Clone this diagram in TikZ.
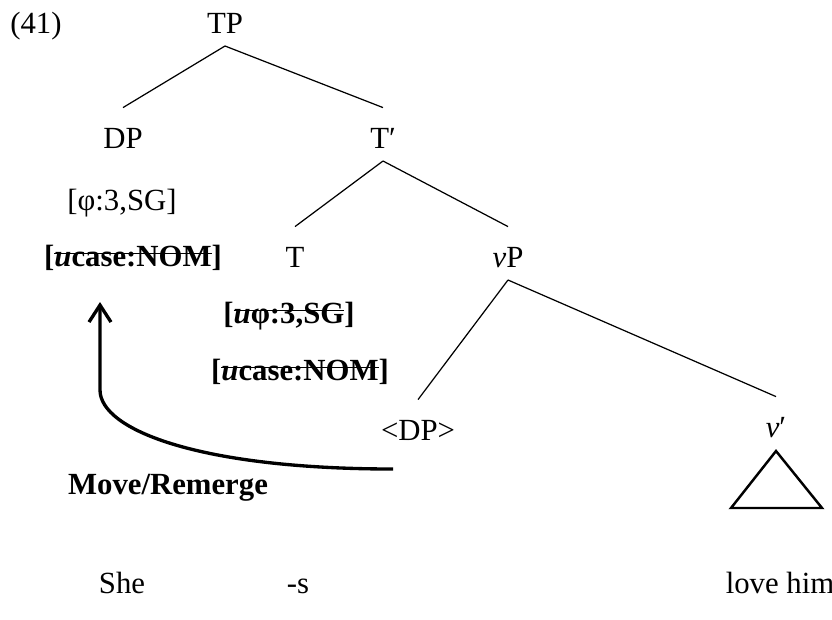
\documentclass[tikz,border=0pt]{standalone}
\usepackage{fontspec}
\setmainfont{Liberation Serif}
\usetikzlibrary{arrows.meta}

% struck-out (checked) feature
\newsavebox{\strikebox}
\newcommand{\struck}[1]{\sbox{\strikebox}{#1}\rlap{\rule[0.38em]{\wd\strikebox}{0.9pt}}\usebox{\strikebox}}

\tikzset{
    cat/.style={anchor=base,inner sep=0pt,text height=15.6pt,text depth=0pt,outer ysep=7.4pt},
    feat/.style={anchor=base,inner sep=0pt},
    branch/.style={line width=0.7pt},
    move/.style={line width=1.9pt,-{Straight Barb[length=0.34cm,width=0.44cm]}},
    roof/.style={line width=1.4pt,line join=miter},
}

\begin{document}
\begin{tikzpicture}[font=\fontsize{17.5}{21}\selectfont]

    \useasboundingbox (0,0) rectangle (16.64,-12.38);

    % example number
    \node[feat] (exno) at (0.72,-0.66) {(41)};

    % tree categories
    \node[cat] (TP) at (4.50,-0.66) {TP};
    \node[cat] (DP) at (2.46,-2.96) {DP};
    \node[cat] (Tbar) at (7.66,-2.96) {T′};
    \node[cat] (T) at (5.90,-5.34) {T};
    \node[cat] (vP) at (10.16,-5.34) {\textit{v}P};
    \node[cat] (trace) at (8.36,-8.80) {<DP>};
    \node[cat] (vbar) at (15.52,-8.74) {\textit{v}′};

    % branches
    \draw[branch] (TP.south) -- (DP.north);
    \draw[branch] (TP.south) -- (Tbar.north);
    \draw[branch] (Tbar.south) -- (T.north);
    \draw[branch] (Tbar.south) -- (vP.north);
    \draw[branch] (vP.south) -- (trace.north);
    \draw[branch] (vP.south) -- (vbar.north);

    % roof under v-bar
    \draw[roof] ([yshift=-0.28cm]vbar.base) -- ++(-0.9,-1.14) -- ++(1.82,0) -- cycle;

    %%%%%%%%%%%%%%%%%%%%%%%%%%%%%%%%%%%%%%%%%%%%%%%%%%%%%%

    % features of the subject DP
    \node[feat] (phiDP) at (2.44,-4.20) {[φ:3,SG]};
    \node[feat] (caseDP) at (2.66,-5.32) {\textbf{[\struck{\textit{u}case:NOM}]}};

    % features of T
    \node[feat] (phiT) at (5.78,-6.46) {\textbf{[\struck{\textit{u}φ:3,SG}]}};
    \node[feat] (caseT) at (6.00,-7.60) {\textbf{[\struck{\textit{u}case:NOM}]}};

    %%%%%%%%%%%%%%%%%%%%%%%%%%%%%%%%%%%%%%%%%%%%%%%%%%%%%%

    % movement of the DP
    \draw[move] ([shift={(-0.5,-0.58)}]trace.base) .. controls +(-3.86,0) and +(0,-0.8) .. ++(-5.86,1.58)
        -- ([shift={(-0.66,-0.72)}]caseDP.base);
    \node[feat] (movelbl) at (3.36,-9.88) {\textbf{Move/Remerge}};

    % words
    \node[feat] (she) at (2.44,-11.86) {She};
    \node[feat] (affix) at (5.96,-11.86) {-s};
    \node[feat] (lovehim) at (15.60,-11.86) {love him};

\end{tikzpicture}
\end{document}
